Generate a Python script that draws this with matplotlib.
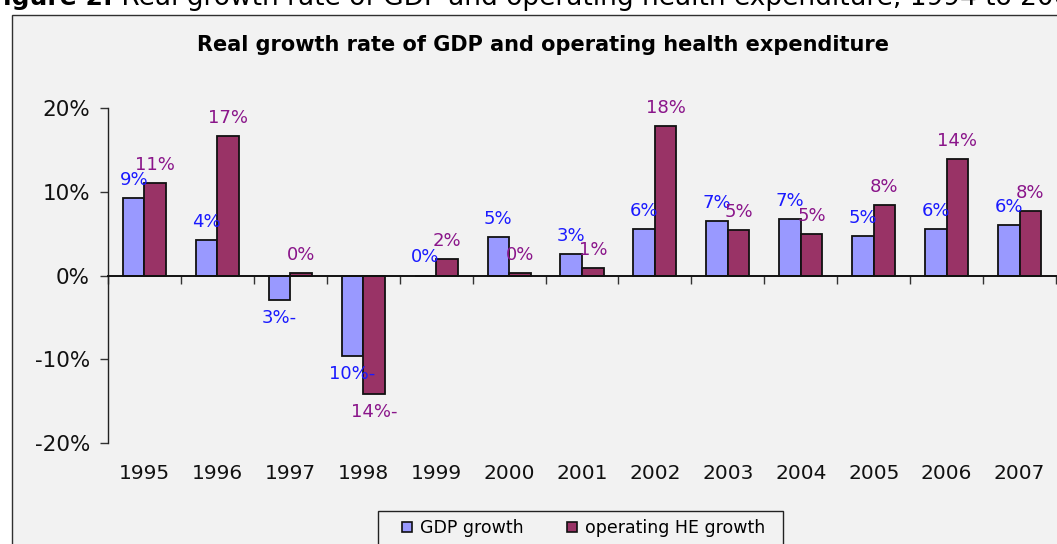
import matplotlib
matplotlib.use("Agg")
import matplotlib.pyplot as plt
from matplotlib.patches import Rectangle, Patch
from matplotlib.ticker import PercentFormatter, FixedLocator
import numpy as np

plt.rcParams['font.family'] = ['DejaVu Sans']
plt.rcParams['axes.unicode_minus'] = False

years = ['1995', '1996', '1997', '1998', '1999', '2000', '2001',
         '2002', '2003', '2004', '2005', '2006', '2007']
gdp_growth = [0.092, 0.0425, -0.029, -0.096, 0.0, 0.046, 0.026,
              0.056, 0.065, 0.0675, 0.047, 0.056, 0.060]
he_growth = [0.110, 0.167, 0.003, -0.142, 0.020, 0.0035, 0.009,
             0.179, 0.054, 0.050, 0.0845, 0.139, 0.0765]
yticks = [-0.2, -0.1, 0.0, 0.1, 0.2]

series_names = ['GDP growth', 'operating HE growth']
fill_colors = ['#9999FF', '#993366']
label_colors = ['#1a1aff', '#8a158a']
bg = '#F2F2F2'

W, H = 1057, 544
fig = plt.figure(figsize=(W / 100, H / 100), dpi=100, facecolor='white')

# chart frame
fig.patches.append(Rectangle((12 / W, -0.1), 1.2, 1 - 15 / H + 0.1,
                             transform=fig.transFigure, facecolor=bg,
                             edgecolor='#303030', linewidth=1.0, zorder=-5))

# caption (partially cut at top as in the original)
cap = fig.text(-14 / W, 1 - 5 / H, 'Figure 2:', fontsize=18, fontweight='bold',
               ha='left', va='baseline', color='black')
fig.canvas.draw()
bb = cap.get_window_extent()
fig.text(bb.x1 / W, 1 - 5 / H,
         ' Real growth rate of GDP and operating health expenditure, 1994 to 2007',
         fontsize=19, ha='left', va='baseline', color='black')

# title
fig.text(543 / W, 1 - 45 / H, 'Real growth rate of GDP and operating health expenditure',
         fontsize=15, fontweight='bold', ha='center', va='center', color='black')

left, right, top, bottom = 108, 1056, 108, 443
ax = fig.add_axes([left / W, 1 - bottom / H, (right - left) / W, (bottom - top) / H])
ax.set_facecolor('none')

x = np.arange(len(years))
w = 0.295
for i, (vals, fc, lc) in enumerate(zip([gdp_growth, he_growth], fill_colors, label_colors)):
    pos = x + (i - 0.5) * w
    ax.bar(pos, vals, width=w, color=fc, edgecolor='#111111', linewidth=1.3,
           zorder=3, label=series_names[i])
    for px, v in zip(pos, vals):
        pct = int(np.floor(abs(v) * 100 + 0.5))
        txt = f'{pct}%' + ('-' if v < 0 else '')
        ax.annotate(txt, xy=(px, v), xytext=(0, 18 if v >= 0 else -18),
                    textcoords='offset pixels', ha='center', va='center',
                    fontsize=13, color=lc, zorder=5)

ax.set_xlim(-0.5, len(years) - 0.5)
ax.set_ylim(-0.2, 0.2)
ax.yaxis.set_major_locator(FixedLocator(yticks))
ax.yaxis.set_major_formatter(PercentFormatter(1.0, decimals=0))
ax.tick_params(axis='y', direction='out', length=6, width=1, color='#333333',
               labelsize=15.5, pad=7, labelcolor='#111111')

ax.spines['top'].set_visible(False)
ax.spines['right'].set_visible(False)
ax.spines['left'].set_color('#222222')
ax.spines['left'].set_linewidth(1.0)
ax.spines['bottom'].set_position(('data', 0))
ax.spines['bottom'].set_color('#111111')
ax.spines['bottom'].set_linewidth(1.4)
ax.spines['bottom'].set_zorder(4)
ax.set_xticks(np.arange(len(years) + 1) - 0.5)
ax.set_xticklabels([])
ax.tick_params(axis='x', direction='out', length=6, width=1, color='#333333')

for xi, yr in zip(x, years):
    ax.text(xi, -0.092, yr, transform=ax.get_xaxis_transform(), ha='center',
            va='center', fontsize=14.5, color='#111111')

# legend box and entries
fig.patches.append(Rectangle((378 / W, -0.1), (783 - 378) / W, 0.1 + 1 - 511 / H,
                             transform=fig.transFigure, facecolor=bg,
                             edgecolor='#222222', linewidth=1.0, zorder=1))
handles = [Patch(facecolor=c, edgecolor='#111111', linewidth=1.2) for c in fill_colors]
leg = fig.legend(handles, series_names, loc='center left',
                 bbox_to_anchor=(402 / W, 1 - 528 / H), ncol=2, fontsize=12.5,
                 frameon=False, handlelength=0.57, handleheight=0.57,
                 handletextpad=0.46, columnspacing=2.5, borderpad=0,
                 borderaxespad=0)
leg.set_zorder(2)

fig.savefig('out.png', dpi=100, facecolor='white')
